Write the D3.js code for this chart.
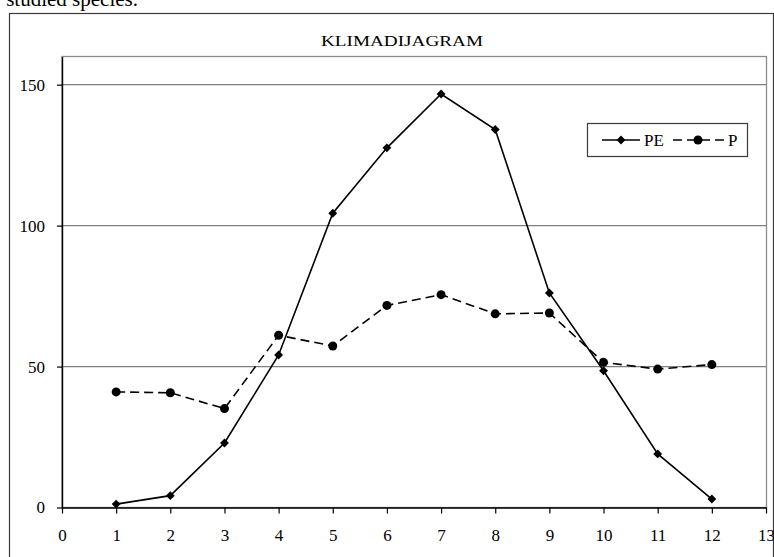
<!DOCTYPE html>
<html>
<head>
<meta charset="utf-8">
<script src="https://cdn.jsdelivr.net/npm/d3@7"></script>
<style>
  body { margin: 0; background: #fff; }
  svg { display: block; font-family: "Liberation Serif", "Times New Roman", serif; }
</style>
</head>
<body>
<svg width="774" height="557"></svg>
<script>
// months on x
var months = [1, 2, 3, 4, 5, 6, 7, 8, 9, 10, 11, 12];
var peValues = [1.2, 4.2, 22.9, 54.1, 104.4, 127.6, 146.7, 134.1, 76.1, 48.5, 19.0, 3.0];
var pValues = [41.0, 40.7, 35.1, 61.1, 57.3, 71.7, 75.5, 68.7, 69.0, 51.5, 49.1, 50.7];
var xTicks = [0, 1, 2, 3, 4, 5, 6, 7, 8, 9, 10, 11, 12, 13];
var yTicks = [0, 50, 100, 150];
var seriesNames = ["PE", "P"];
var title = "KLIMADIJAGRAM";

var svg = d3.select("svg");

var plot = { left: 62, right: 766, top: 56.5, bottom: 507.5 };

var xScale = d3.scaleLinear().domain([0, 13]).range([plot.left, plot.right]);
var yScale = d3.scaleLinear().domain([0, 160]).range([plot.bottom, plot.top]);

// leftover caption of the page above the chart
svg.append("text")
    .attr("x", 138)
    .attr("y", 6)
    .attr("text-anchor", "end")
    .attr("font-size", 21)
    .text("studied species.");

// outer chart frame
svg.append("rect")
    .attr("x", 9.5).attr("y", 13.5)
    .attr("width", 764).attr("height", 600)
    .attr("fill", "none")
    .attr("stroke", "#3a3a3a")
    .attr("stroke-width", 1.2);

// plot area border (gray)
svg.append("rect")
    .attr("x", plot.left).attr("y", plot.top)
    .attr("width", plot.right - plot.left + 0.5)
    .attr("height", plot.bottom - plot.top)
    .attr("fill", "none")
    .attr("stroke", "#8a8a8a")
    .attr("stroke-width", 1.3);

// gridlines
svg.append("g")
    .selectAll("line")
    .data(yTicks.filter(d => d > 0))
    .join("line")
    .attr("x1", plot.left).attr("x2", plot.right)
    .attr("y1", d => yScale(d)).attr("y2", d => yScale(d))
    .attr("stroke", "#808080")
    .attr("stroke-width", 1.3);

// title
svg.append("text")
    .attr("x", 402)
    .attr("y", 46)
    .attr("text-anchor", "middle")
    .attr("font-size", 15)
    .attr("textLength", 162)
    .attr("lengthAdjust", "spacingAndGlyphs")
    .text(title);

var yAxis = d3.axisLeft(yScale)
    .tickValues(yTicks)
    .tickSize(5)
    .tickSizeOuter(0)
    .tickPadding(12);

var xAxis = d3.axisBottom(xScale)
    .tickValues(xTicks)
    .tickSize(6)
    .tickSizeOuter(0)
    .tickPadding(15);

var gy = svg.append("g")
    .attr("transform", "translate(" + plot.left + ",0)")
    .call(yAxis);

var gx = svg.append("g")
    .attr("transform", "translate(0," + plot.bottom + ")")
    .call(xAxis);

[gx, gy].forEach(g => {
    g.attr("font-family", null).attr("font-size", 17);
    g.select(".domain").attr("stroke", "#000").attr("stroke-width", 1.4);
    g.selectAll(".tick line").attr("stroke", "#000").attr("stroke-width", 1.2);
    g.selectAll(".tick text").attr("fill", "#000");
});

var line = d3.line()
    .x((d, i) => xScale(months[i]))
    .y(d => yScale(d));

// PE: solid with diamonds
svg.append("path")
    .datum(peValues)
    .attr("fill", "none")
    .attr("stroke", "#000")
    .attr("stroke-width", 1.6)
    .attr("d", line);

var diamond = d3.symbol().type(d3.symbolDiamond2).size(50);

svg.append("g")
    .selectAll("path")
    .data(peValues)
    .join("path")
    .attr("transform", (d, i) => "translate(" + xScale(months[i]) + "," + yScale(d) + ")")
    .attr("d", diamond)
    .attr("fill", "#000");

// P: dashed with circles
svg.append("path")
    .datum(pValues)
    .attr("fill", "none")
    .attr("stroke", "#000")
    .attr("stroke-width", 1.6)
    .attr("stroke-dasharray", "9,5")
    .attr("d", line);

svg.append("g")
    .selectAll("circle")
    .data(pValues)
    .join("circle")
    .attr("cx", (d, i) => xScale(months[i]))
    .attr("cy", d => yScale(d))
    .attr("r", 4.5)
    .attr("fill", "#000");

// legend
var legend = svg.append("g");
legend.append("rect")
    .attr("x", 587.5).attr("y", 123.5)
    .attr("width", 160).attr("height", 33)
    .attr("fill", "#fff")
    .attr("stroke", "#3a3a3a")
    .attr("stroke-width", 1.2);

var ly = 140;
legend.append("line")
    .attr("x1", 602).attr("x2", 640).attr("y1", ly).attr("y2", ly)
    .attr("stroke", "#000").attr("stroke-width", 1.6);
legend.append("path")
    .attr("transform", "translate(621," + ly + ")")
    .attr("d", diamond)
    .attr("fill", "#000");
legend.append("text")
    .attr("x", 644).attr("y", ly + 6)
    .attr("font-size", 17)
    .text(seriesNames[0]);

legend.append("line")
    .attr("x1", 673).attr("x2", 726).attr("y1", ly).attr("y2", ly)
    .attr("stroke", "#000").attr("stroke-width", 1.6)
    .attr("stroke-dasharray", "9,5");
legend.append("circle")
    .attr("cx", 698).attr("cy", ly).attr("r", 4.5)
    .attr("fill", "#000");
legend.append("text")
    .attr("x", 728).attr("y", ly + 6)
    .attr("font-size", 17)
    .text(seriesNames[1]);
</script>
</body>
</html>
